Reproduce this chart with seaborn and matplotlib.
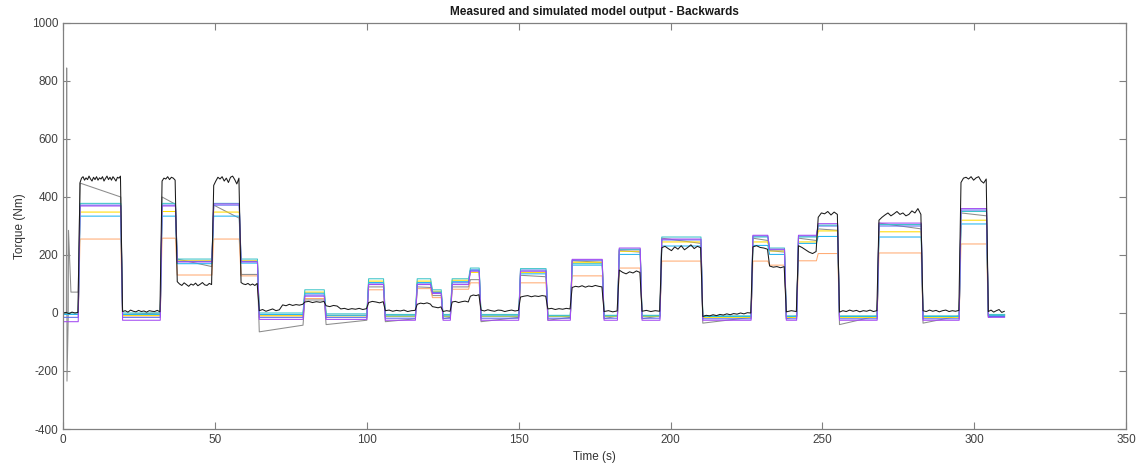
import numpy as np
import pandas as pd
import matplotlib
matplotlib.use("Agg")
import matplotlib.pyplot as plt
import seaborn as sns

# ---------------- data ----------------
edges = [0, 5, 19, 32, 37, 49, 58, 64, 79, 86, 100, 105.5, 116, 121, 124.5, 127.5,
         133.5, 137, 150, 159, 167, 177.5, 182.5, 190, 196.5, 210, 226.5, 232, 237.5,
         241.5, 248, 255, 268, 282.5, 295, 304, 310]

purple = [-30, 369, -25, 369, 176, 376, 176, -22, 58, -22, 98, -25, 98, 67, -25, 98,
          144, -25, 144, -25, 185, -25, 224, -25, 255, -25, 268, 220, -25, 268, 308, -25,
          310, -25, 360, -15]
teal = [0, 378, 0, 378, 186, 378, 186, 0, 80, -3, 118, -5, 118, 80, -5, 118,
        155, -5, 153, -8, 170, -8, 220, -8, 262, -10, 262, 224, -10, 262, 303, -10,
        305, -10, 350, -5]
yellow = [-5, 348, -8, 350, 180, 348, 180, -10, 72, -10, 110, -12, 110, 75, -12, 113,
          140, -12, 140, -12, 175, -12, 213, -12, 245, -15, 245, 214, -15, 245, 283, -15,
          280, -15, 320, -10]
lightblue = [-5, 334, -5, 334, 170, 334, 172, -5, 68, -8, 105, -10, 105, 72, -10, 108,
             148, -10, 135, -10, 165, -10, 202, -10, 231, -12, 233, 202, -12, 240, 264, -12,
             262, -12, 307, -8]
blue = [-15, 372, -15, 372, 178, 372, 178, -15, 62, -15, 100, -18, 100, 70, -18, 104,
        148, -18, 148, -18, 182, -18, 218, -18, 252, -20, 265, 218, -20, 265, 300, -20,
        300, -20, 355, -12]
orange = [-5, 255, -10, 258, 131, 255, 128, -8, 50, -8, 80, -10, 84, 53, -10, 82,
          104, -10, 104, -10, 128, -10, 155, -10, 179, -12, 179, 165, -12, 180, 205, -12,
          207, -12, 238, -8]
gray_start = [72, 448, -5, 400, 186, 372, 133, -65, 45, -40, 90, -30, 90, 60, -20, 90,
              115, -30, 130, -25, 180, -20, 215, -20, 258, -35, 258, 215, -20, 258, 290, -40,
              310, -35, 345, -15]
gray_end = [72, 400, 0, 375, 160, 327, 133, -42, 45, -25, 90, -20, 88, 60, -15, 90,
            115, -15, 125, -15, 175, -10, 210, -10, 240, -15, 250, 210, -10, 250, 285, -10,
            290, -10, 335, -5]
# initial transient of the grey model
gray_init_t = [0, 1.1, 1.2, 1.3, 1.7, 1.8, 2.6, 5.0]
gray_init_v = [0, 0, 845, -235, -20, 285, 72, 72]

# measured torque, per segment
black = [
    [0, 2, -2, 3, 0, 2],
    [450, 465, 470, 458, 466, 460, 472, 462, 455, 468, 460, 470, 458, 466, 462, 470,
     455, 464, 472, 460, 468, 458, 470, 463, 455, 468, 465, 472],
    [5, 8, 3, 10, 6, 4, 9, 5, 7, 3, 8, 6, 5, 9, 4],
    [455, 465, 462, 470, 460, 468, 465, 458],
    [108, 100, 95, 104, 98, 92, 100, 96, 103, 94, 99, 105, 97, 95, 102, 98],
    [440, 455, 468, 462, 470, 455, 465, 450, 468, 472, 460, 445, 465],
    [105, 100, 98, 102, 96, 100, 95, 102],
    [8, 12, 6, 10, 14, 8, 11, 28, 25, 30, 26, 29, 27, 30],
    [38, 40, 36, 39, 37, 40],
    [25, 22, 26, 24, 14, 16, 12, 15, 13, 16, 12, 15],
    [36, 40, 38, 35, 39],
    [8, 10, 6, 9, 7, 10, 5, 8, 9],
    [30, 34, 32, 35, 31],
    [22, 20, 18, 21],
    [5, 8, 6],
    [38, 40, 36, 39, 41, 38],
    [58, 62, 60, 63],
    [10, 7, 11, 8, 6, 10, 9, 5, 8, 10, 7, 9],
    [55, 58, 60, 56, 59, 57, 60, 58],
    [14, 16, 12, 15, 13, 16, 14],
    [88, 92, 90, 94, 89, 93, 91, 95, 92, 90],
    [5, 8, 4, 7],
    [148, 140, 135, 142, 138, 145, 140],
    [6, 9, 5, 8, 6],
    [225, 230, 222, 215, 228, 220, 232, 218, 226, 235, 222, 230, 225],
    [-12, -8, -10, -6, -9, -5, -7, -3, -6, -2, -4, 0, -3, 1, 0],
    [228, 232, 226, 224, 220],
    [162, 158, 160, 156, 160],
    [4, 8, 5],
    [232, 226, 218, 210, 205, 212],
    [330, 345, 342, 350, 338, 348, 340],
    [3, 8, 5, 10, 6, 9, 4, 8, 6, 10, 5, 8],
    [320, 330, 338, 345, 335, 342, 350, 340, 345, 335, 340, 352, 345, 360, 340],
    [8, 5, 10, 6, 9, 4, 8, 10, 5, 8, 6, 9],
    [450, 465, 468, 462, 470, 458, 466, 470, 455, 448, 462],
    [5, 10, 3, 8, 12, 2, 6],
]

colors = {
    "gray": "#8c8c8c",
    "orange": "#ffab73",
    "yellow": "#ffdc00",
    "lightblue": "#21b4f2",
    "blue": "#5a6af0",
    "teal": "#3cc4c8",
    "purple": "#a24af2",
    "black": "#1a1a1a",
}
hue_order = ["gray", "orange", "yellow", "lightblue", "blue", "teal", "purple", "black"]

# ---------------- build long table ----------------
RISE = 0.6
n_seg = len(edges) - 1
rows = []


def add_levels(name, starts, ends):
    for i in range(n_seg):
        t0, t1 = edges[i], edges[i + 1]
        if name == "gray" and i == 0:
            for t, v in zip(gray_init_t, gray_init_v):
                rows.append((name, t, v))
            continue
        ta = t0 + RISE if i > 0 else t0
        rows.append((name, ta, starts[i]))
        rows.append((name, t1, ends[i]))


add_levels("gray", gray_start, gray_end)
for nm, arr in [("orange", orange), ("yellow", yellow), ("lightblue", lightblue),
                ("blue", blue), ("teal", teal), ("purple", purple)]:
    add_levels(nm, arr, arr)

for i in range(n_seg):
    t0, t1 = edges[i], edges[i + 1]
    vals = black[i]
    ta = t0 + RISE if i > 0 else t0
    ts = np.linspace(ta, t1 - 0.1, len(vals))
    for t, v in zip(ts, vals):
        rows.append(("black", t, v))

df = pd.DataFrame(rows, columns=["series", "t", "v"])

# ---------------- plot ----------------
sns.set_theme(style="white")
plt.rcParams["font.family"] = ["Liberation Sans", "DejaVu Sans"]
plt.rcParams["axes.unicode_minus"] = False

fig = plt.figure(figsize=(11.42, 4.72), dpi=100)
ax = fig.add_axes([0.0552, 0.0911, 0.9310, 0.8602])

sns.lineplot(data=df, x="t", y="v", hue="series", hue_order=hue_order,
             palette=colors, estimator=None, sort=True, legend=False,
             linewidth=0.75, ax=ax)

ax.set_xlim(0, 350)
ax.set_ylim(-400, 1000)
ax.set_xticks(np.arange(0, 351, 50))
ax.set_yticks(np.arange(-400, 1001, 200))
ax.set_title("Measured and simulated model output - Backwards", fontsize=8.5,
             fontweight="bold", color="#1a1a1a", pad=6)
ax.set_xlabel("Time (s)", fontsize=8.5, color="#333333", labelpad=4)
ax.set_ylabel("Torque (Nm)", fontsize=8.5, color="#333333", labelpad=4)

for s in ax.spines.values():
    s.set_visible(True)
    s.set_color("#808080")
    s.set_linewidth(0.9)
ax.tick_params(axis="both", direction="in", length=5, width=0.8, colors="#808080",
               labelcolor="#404040", labelsize=8.5, top=True, right=True,
               bottom=True, left=True)

fig.savefig("out.png", dpi=100, facecolor="white")
